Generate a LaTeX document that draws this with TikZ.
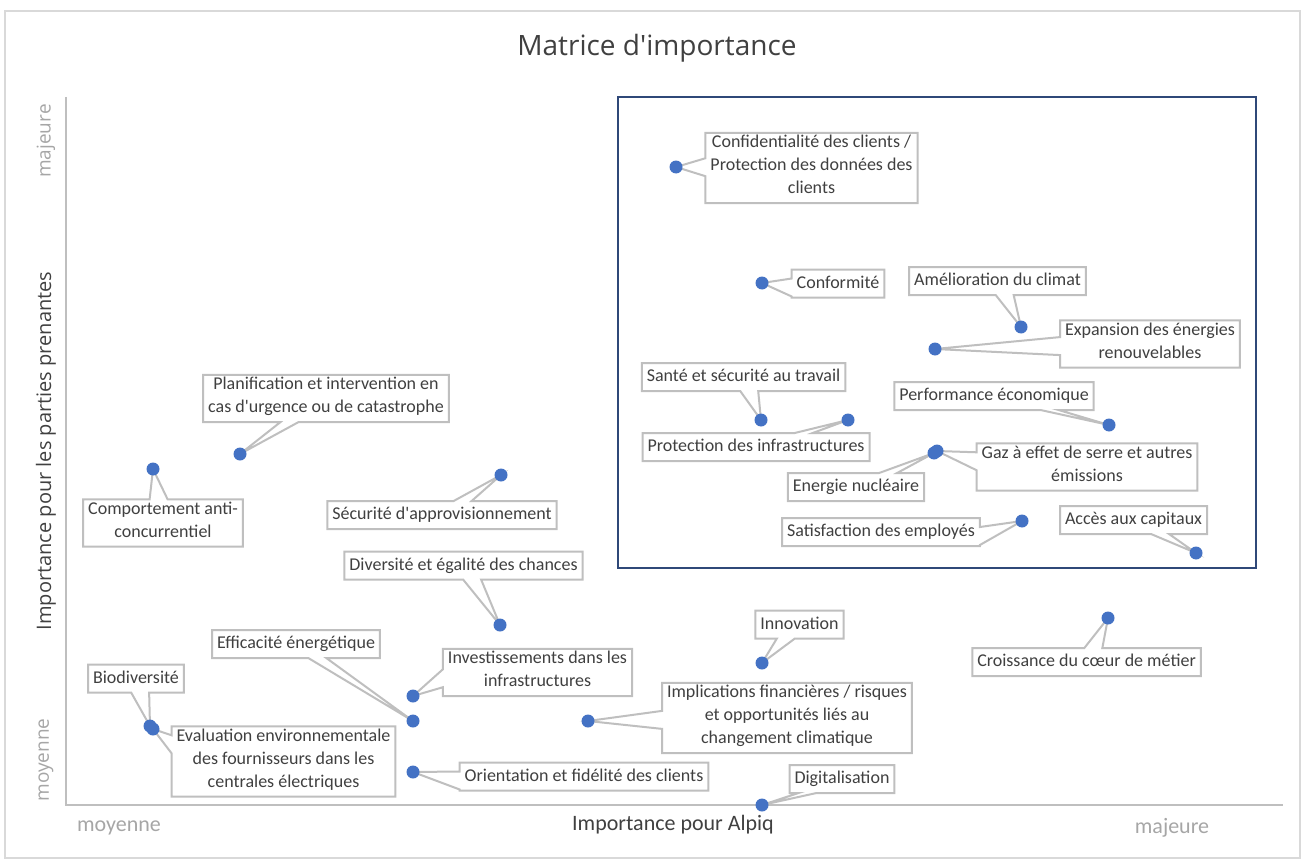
\documentclass[tikz,border=0pt]{standalone}
\usepackage{fontspec}
\setmainfont{Carlito}
\newfontfamily\headfont{Open Sans}
\usepackage{tikz}
\usetikzlibrary{shapes.callouts, backgrounds}
\definecolor{dotblue}{RGB}{68, 114, 196}
\definecolor{boxgray}{RGB}{191, 191, 191}
\definecolor{framegray}{RGB}{217, 217, 217}
\definecolor{textdark}{RGB}{64, 64, 64}
\definecolor{scalegray}{RGB}{166, 166, 166}
\definecolor{focusblue}{RGB}{47, 72, 120}

\begin{document}
\begin{tikzpicture}[
    x=1pt, y=-1pt,
    issue/.style={rectangle callout, callout absolute pointer={#1}, callout pointer width=18pt, draw=boxgray, line width=2pt, fill=white, align=center, text=textdark, font=\fontsize{18}{23}\selectfont, inner xsep=5pt, inner ysep=2.5pt, execute at begin node=\strut, execute at end node=\strut},
    scalelabel/.style={font=\headfont\fontsize{19}{23}\selectfont, text=scalegray},
    xscalelabel/.style={font=\fontsize{22}{26}\selectfont, text=scalegray},
    axistitle/.style={text=textdark}
  ]
  \useasboundingbox (0,0) rectangle (1314,864);
  \draw[framegray, line width=1.5pt] (5,11) rectangle (1300,858);

  % Title and axes
  \node[font=\headfont\fontsize{28}{33}\selectfont, text=textdark] (title) at (657,48) {Matrice d'importance};
  \coordinate (ytop) at (66,97);
  \coordinate (origin) at (66,805);
  \coordinate (xend) at (1283,805);
  \draw[boxgray, line width=2pt] (ytop) -- (origin) -- (xend);
  \draw[focusblue, line width=2pt] (618,97) rectangle (1256,568);

  \node[scalelabel, rotate=90] (ymaj) at (46,141) {majeure};
  \node[scalelabel, rotate=90] (ymoy) at (46,760) {moyenne};
  \node[axistitle, font=\headfont\fontsize{20}{24}\selectfont, rotate=90] (ytitle) at (46,451) {Importance pour les parties prenantes};
  \node[xscalelabel] (xmoy) at (119,828) {moyenne};
  \node[xscalelabel] (xmaj) at (1172,828) {majeure};
  \node[axistitle, font=\fontsize{22}{26}\selectfont] (xtitle) at (673,825) {Importance pour Alpiq};

  % Data points
  \coordinate (dconf) at (676,167);
  \coordinate (dconform) at (762,283);
  \coordinate (dclimat) at (1021,327);
  \coordinate (dexpan) at (935,349);
  \coordinate (dsante) at (761,420);
  \coordinate (dprotinf) at (848,420);
  \coordinate (dperf) at (1109,425);
  \coordinate (dgaz) at (937,451);
  \coordinate (dnucl) at (934,453);
  \coordinate (dsatis) at (1022,521);
  \coordinate (dacces) at (1196,553);
  \coordinate (dplanif) at (240,454);
  \coordinate (dcomport) at (153,469);
  \coordinate (dsecur) at (501,475);
  \coordinate (ddivers) at (500,625);
  \coordinate (deffic) at (413,721);
  \coordinate (dinvest) at (413,696);
  \coordinate (dbiodiv) at (150,726);
  \coordinate (devalenv) at (153,729);
  \coordinate (dorient) at (413,772);
  \coordinate (dimplic) at (588,721);
  \coordinate (dinnov) at (762,663);
  \coordinate (ddigital) at (762,805);
  \coordinate (dcroiss) at (1108,618);

  % Callouts
  \node[issue={(dconf)}] (conf) at (811.5,168) {Confidentialité des clients /\\Protection des données des\\clients};
  \node[issue={(dconform)}] (conform) at (838,283.5) {Conformité};
  \node[issue={(dclimat)}] (climat) at (997.5,281) {Amélioration du climat};
  \node[issue={(dexpan)}] (expan) at (1150,344) {Expansion des énergies\\renouvelables};
  \node[issue={(dsante)}] (sante) at (743.5,377) {Santé et sécurité au travail};
  \node[issue={(dprotinf)}] (protinf) at (756,447) {Protection des infrastructures};
  \node[issue={(dperf)}] (perf) at (994,396) {Performance économique};
  \node[issue={(dgaz)}] (gaz) at (1087,467) {Gaz à effet de serre et autres\\émissions};
  \node[issue={(dnucl)}] (nucl) at (856,487) {Energie nucléaire};
  \node[issue={(dsatis)}] (satis) at (881,532) {Satisfaction des employés};
  \node[issue={(dacces)}] (acces) at (1133.5,520) {Accès aux capitaux};
  \node[issue={(dplanif)}] (planif) at (326,398.5) {Planification et intervention en\\cas d\textquotesingle urgence ou de catastrophe};
  \node[issue={(dcomport)}] (comport) at (163,523) {Comportement anti-\\concurrentiel};
  \node[issue={(dsecur)}] (secur) at (442,515) {Sécurité d\textquotesingle approvisionnement};
  \node[issue={(ddivers)}] (divers) at (463.5,565.5) {Diversité et égalité des chances};
  \node[issue={(deffic)}] (effic) at (296,644) {Efficacité énergétique};
  \node[issue={(dinvest)}] (invest) at (537.5,672.5) {Investissements dans les\\infrastructures};
  \node[issue={(dbiodiv)}] (biodiv) at (136,678.5) {Biodiversité};
  \node[issue={(devalenv)}] (evalenv) at (283.5,761.5) {Evaluation environnementale\\des fournisseurs dans les\\centrales électriques};
  \node[issue={(dorient)}] (orient) at (584,776.5) {Orientation et fidélité des clients};
  \node[issue={(dimplic)}] (implic) at (787,718) {Implications financières / risques\\et opportunités liés au\\changement climatique};
  \node[issue={(dinnov)}] (innov) at (799.5,624.5) {Innovation};
  \node[issue={(ddigital)}] (digital) at (842,779) {Digitalisation};
  \node[issue={(dcroiss)}] (croiss) at (1086.5,662) {Croissance du cœur de métier};

  \foreach \d in {dconf, dconform, dclimat, dexpan, dsante, dprotinf, dperf, dgaz, dnucl, dsatis, dacces, dplanif, dcomport, dsecur, ddivers, deffic, dinvest, dbiodiv, devalenv, dorient, dimplic, dinnov, ddigital, dcroiss}
    \fill[dotblue] (\d) circle (6.5);

\end{tikzpicture}
\end{document}
